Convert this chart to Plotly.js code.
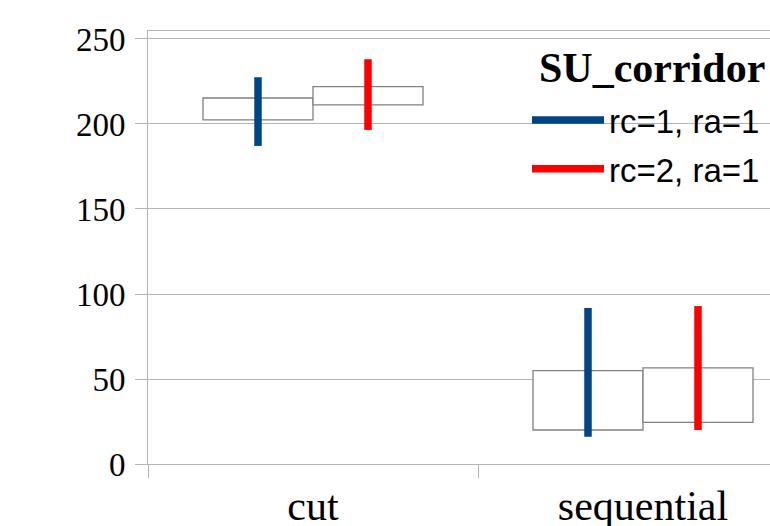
<!DOCTYPE html>
<html>
<head>
<meta charset="utf-8">
<script src="https://cdn.plot.ly/plotly-3.0.1.min.js"></script>
<style>html,body{margin:0;padding:0;background:#fff;}#chart{width:770px;height:526px;}</style>
</head>
<body>
<div id="chart"></div>
<script>
// ---- data ----
var categories = ['cut', 'sequential'];
var seriesNames = ['rc=1, ra=1', 'rc=2, ra=1'];
var legendTitle = 'SU_corridor';
// box (open/close) and high-low values per series
var rc1BoxLow  = [202.4, 20.0];
var rc1BoxHigh = [215.3, 54.9];
var rc1Low     = [187.1, 16.0];
var rc1High    = [227.5, 91.8];
var rc2BoxLow  = [211.3, 24.5];
var rc2BoxHigh = [222.0, 56.6];
var rc2Low     = [196.5, 20.0];
var rc2High    = [238.1, 92.9];
var yTicks = [0, 50, 100, 150, 200, 250];

// ---- build ----
var catIdx = categories.map(function (c, i) { return i; });
var colors = ['#004586', '#ff0000'];
var boxW = 1 / 3;
var boxOffsets = [-1 / 3, 0];
var lineOffsets = [-1 / 6, 1 / 6];

function boxTrace(lo, hi, k) {
  return {
    type: 'bar', x: catIdx, base: lo,
    y: hi.map(function (v, i) { return v - lo[i]; }),
    width: boxW, offset: boxOffsets[k],
    marker: { color: '#ffffff', line: { color: '#808080', width: 1.3 } },
    showlegend: false, hoverinfo: 'skip'
  };
}
function hlTrace(lo, hi, k) {
  var xs = [], ys = [];
  catIdx.forEach(function (i) {
    xs.push(i + lineOffsets[k], i + lineOffsets[k], null);
    ys.push(lo[i], hi[i], null);
  });
  return {
    type: 'scatter', mode: 'lines', x: xs, y: ys, name: seriesNames[k],
    legendgroup: 'g' + k,
    line: { color: colors[k], width: 7.5 }, connectgaps: false
  };
}

var data = [
  boxTrace(rc1BoxLow, rc1BoxHigh, 0),
  boxTrace(rc2BoxLow, rc2BoxHigh, 1),
  hlTrace(rc1Low, rc1High, 0),
  hlTrace(rc2Low, rc2High, 1)
];
// dummy trace to activate xaxis2 (category boundary ticks)
data.push({ type: 'scatter', x: [], y: [], xaxis: 'x2', showlegend: false, hoverinfo: 'skip' });

var grid = '#b3b3b3';
var xRange = [-0.5, -0.5 + 622 / 330];
var layout = {
  width: 770, height: 526,
  margin: { l: 148, r: 0, t: 31, b: 62 },
  paper_bgcolor: '#ffffff', plot_bgcolor: '#ffffff',
  barmode: 'overlay',
  showlegend: true,
  xaxis: {
    range: xRange, tickvals: catIdx, ticktext: categories,
    ticks: '', showgrid: false, zeroline: false,
    showline: true, linecolor: grid, linewidth: 1, mirror: true,
    tickfont: { family: 'Liberation Serif', size: 42, color: '#000' },
    ticklabelstandoff: 5
  },
  xaxis2: {
    overlaying: 'x', anchor: 'y', side: 'bottom', range: xRange,
    tickvals: [-0.5, 0.5, 1.5], ticks: 'outside', ticklen: 13,
    tickcolor: grid, tickwidth: 1, showticklabels: false,
    showgrid: false, zeroline: false, showline: false
  },
  yaxis: {
    range: [0, 254.7], tickvals: yTicks,
    ticks: 'outside', ticklen: 12, tickcolor: grid, tickwidth: 1,
    showgrid: true, gridcolor: grid, gridwidth: 1, zeroline: false,
    showline: true, linecolor: grid, linewidth: 1, mirror: false,
    tickfont: { family: 'Liberation Serif', size: 33, color: '#000' },
    ticklabelstandoff: 3
  },
  shapes: [{
    type: 'rect', xref: 'paper', yref: 'paper', layer: 'between',
    x0: (497 - 148) / 622, x1: 1, y0: (464 - 200) / 433, y1: (464 - 45) / 433,
    fillcolor: '#ffffff', line: { width: 0 }
  }],
  annotations: [{
    text: '<b>' + legendTitle + '</b>', xref: 'paper', yref: 'paper',
    x: (767 - 148) / 622, y: (464 - 68) / 433, xanchor: 'right', yanchor: 'middle',
    showarrow: false, font: { family: 'Liberation Serif', size: 42, color: '#000' }
  }],
  legend: {
    x: (527 - 148) / 622, y: (464 - 92) / 433, xanchor: 'left', yanchor: 'top',
    bgcolor: 'rgba(0,0,0,0)', borderwidth: 0,
    font: { family: 'Liberation Sans', size: 33, color: '#000' },
    tracegroupgap: 3, itemwidth: 72
  }
};

Plotly.newPlot('chart', data, layout, { displayModeBar: false, staticPlot: true });
</script>
</body>
</html>
